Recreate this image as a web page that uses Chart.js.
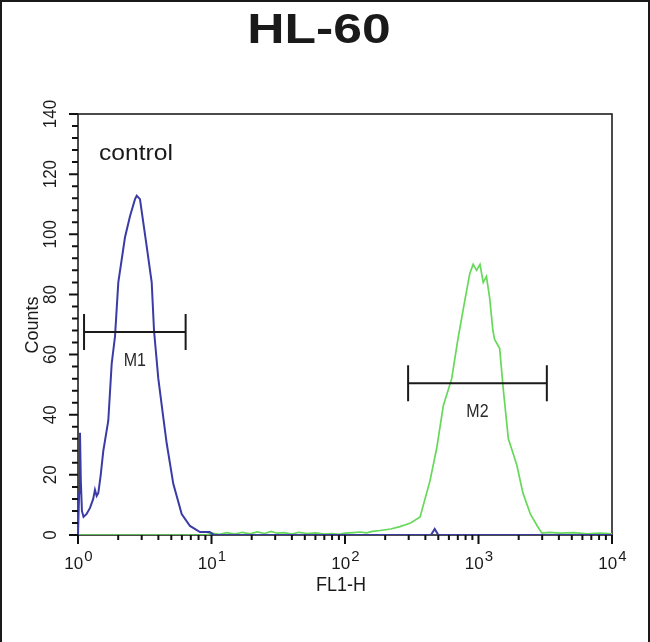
<!DOCTYPE html>
<html>
<head>
<meta charset="utf-8">
<script src="https://cdn.jsdelivr.net/npm/chart.js@4.4.1/dist/chart.umd.min.js"></script>
<style>
  html, body { margin: 0; padding: 0; background: #fff; }
  #wrap { position: relative; width: 650px; height: 642px; }
</style>
</head>
<body>
<div id="wrap"><canvas id="histChart"></canvas></div>
<script>
// control histogram (blue)
const blueX = [1.0, 1.02, 1.035, 1.05, 1.07, 1.1, 1.16, 1.23, 1.3, 1.34, 1.38, 1.42, 1.48, 1.547, 1.686, 1.788, 1.893,
  2.004, 2.249, 2.452, 2.673, 2.754, 2.912, 3.27, 3.565, 3.71, 3.996, 4.355, 4.616, 5.174, 5.98, 6.9, 8.2, 9.7, 10.5,
  440, 470, 500, 10000];
const blueY = [0, 14, 34, 18, 8, 6, 7, 9, 12, 15, 13, 14, 20, 28, 38, 57, 66,
  84, 99, 106, 111.7, 112.8, 111.7, 96, 84, 68, 52, 39, 30.5, 17, 7, 3, 1, 1, 0,
  0, 2, 0, 0];

// stained sample histogram (green)
const greenX = [1, 9, 10, 11.5, 13, 15, 17, 19.5, 22, 25, 28, 31, 35, 40, 45, 52, 60, 70, 80, 90, 100, 115, 130, 145,
  160, 183, 220, 258, 310, 365, 433, 487, 545, 630, 700,
  790, 861, 912, 967, 1026, 1085, 1146, 1211, 1282, 1320, 1441, 1529, 1673, 1820, 1942, 2151, 2445, 2757, 2980,
  3400, 4080, 5200, 6500, 8100, 10000];
const greenY = [0, 0, 0.6, 0.2, 0.8, 0.3, 0.9, 0.4, 1, 0.5, 1.2, 0.6, 0.8, 0.3, 0.9, 0.5, 0.7, 0.3, 0.5, 0.2, 0.6, 0.8, 1, 0.7,
  1.2, 1.5, 2, 2.8, 4, 6, 18, 29, 43, 52, 65,
  78, 87, 90, 88, 90, 84, 86, 79, 68, 65, 62, 49, 32, 27, 23, 14, 7, 3, 0.6,
  0.9, 0.6, 0.8, 0.4, 0.6, 0.4];

// gate markers
const markerNames = ["M1", "M2"];
const markerStart = [1.11, 297];
const markerEnd = [6.4, 3250];
const markerLevel = [67.5, 50.5];

const yTicks = [0, 20, 40, 60, 80, 100, 120, 140];
const xTickExp = [0, 1, 2, 3, 4];

const toPoints = (xs, ys) => xs.map((x, i) => ({ x: x, y: ys[i] }));

function drawText(ctx, text, x, y, font, align, sx, sy, rot) {
  ctx.save();
  ctx.translate(x, y);
  if (rot) ctx.rotate(rot);
  ctx.scale(sx || 1, sy || 1);
  ctx.font = font;
  ctx.textAlign = align || 'center';
  ctx.textBaseline = 'alphabetic';
  ctx.fillText(text, 0, 0);
  ctx.restore();
}

const decorPlugin = {
  id: 'decor',
  beforeDatasetsDraw(chart) {
    const { ctx, chartArea: a } = chart;
    const xs = chart.scales.x, ys = chart.scales.y;
    ctx.save();
    ctx.strokeStyle = '#111';
    ctx.lineWidth = 1.5;
    ctx.strokeRect(a.left, a.top, a.right - a.left, a.bottom - a.top);

    // y ticks
    ctx.lineWidth = 2;
    ctx.beginPath();
    for (let v = 0; v <= 140; v += 4) {
      const py = ys.getPixelForValue(v);
      const len = (v % 20 === 0) ? 9 : 6;
      ctx.moveTo(a.left - len, py);
      ctx.lineTo(a.left, py);
    }
    // x ticks
    xTickExp.forEach((e, i) => {
      const px = xs.getPixelForValue(Math.pow(10, e));
      ctx.moveTo(px, a.bottom);
      ctx.lineTo(px, a.bottom + 9);
      if (i < xTickExp.length - 1) {
        for (let m = 2; m <= 9; m++) {
          const mx = xs.getPixelForValue(m * Math.pow(10, e));
          ctx.moveTo(mx, a.bottom);
          ctx.lineTo(mx, a.bottom + 5);
        }
      }
    });
    ctx.stroke();
    ctx.restore();
  },
  afterDraw(chart) {
    const { ctx, chartArea: a } = chart;
    const xs = chart.scales.x, ys = chart.scales.y;
    ctx.save();
    ctx.fillStyle = '#1a1a1a';

    // image frame
    ctx.fillRect(0, 0, 650, 2);
    ctx.fillRect(0, 0, 2, 642);
    ctx.fillRect(648, 0, 2, 642);

    drawText(ctx, 'HL-60', 319, 43, 'bold 43px "Liberation Sans", Arial, sans-serif', 'center', 1.2, 1);
    drawText(ctx, 'control', 99, 160, '22px "Liberation Sans", Arial, sans-serif', 'left', 1.12, 1);

    // y tick labels (rotated)
    yTicks.forEach(v => {
      const py = ys.getPixelForValue(v);
      drawText(ctx, String(v), 56, py, '17px "Liberation Sans", Arial, sans-serif', 'center', 1, 1.05, -Math.PI / 2);
    });
    drawText(ctx, 'Counts', 38, 325, '18px "Liberation Sans", Arial, sans-serif', 'center', 1, 1, -Math.PI / 2);

    // x tick labels 10^n
    xTickExp.forEach(e => {
      const px = xs.getPixelForValue(Math.pow(10, e));
      ctx.font = '17px "Liberation Sans", Arial, sans-serif';
      const wBase = ctx.measureText('10').width;
      ctx.font = '15px "Liberation Sans", Arial, sans-serif';
      const wExp = ctx.measureText(String(e)).width;
      const left = px - (wBase + wExp) / 2;
      drawText(ctx, '10', left, 569, '17px "Liberation Sans", Arial, sans-serif', 'left');
      drawText(ctx, String(e), left + wBase + 1, 561, '15px "Liberation Sans", Arial, sans-serif', 'left');
    });
    drawText(ctx, 'FL1-H', 341, 591, '19px "Liberation Sans", Arial, sans-serif', 'center', 0.95, 1.05);

    // gate markers
    ctx.strokeStyle = '#1a1a1a';
    ctx.lineWidth = 2;
    markerNames.forEach((name, i) => {
      const x1 = xs.getPixelForValue(markerStart[i]);
      const x2 = xs.getPixelForValue(markerEnd[i]);
      const py = ys.getPixelForValue(markerLevel[i]);
      ctx.beginPath();
      ctx.moveTo(x1, py); ctx.lineTo(x2, py);
      ctx.moveTo(x1, py - 18); ctx.lineTo(x1, py + 18);
      ctx.moveTo(x2, py - 18); ctx.lineTo(x2, py + 18);
      ctx.stroke();
      const cx = xs.getPixelForValue(Math.sqrt(markerStart[i] * markerEnd[i]));
      ctx.fillStyle = '#2a2a2a';
      drawText(ctx, name, cx, py + 34, '16px "Liberation Sans", Arial, sans-serif', 'center', 1, 1.2);
    });
    ctx.restore();
  }
};

new Chart(document.getElementById('histChart'), {
  type: 'line',
  data: {
    datasets: [{
      label: 'control',
      data: toPoints(blueX, blueY),
      borderColor: '#3b3ba6',
      borderWidth: 2,
      pointRadius: 0,
      tension: 0
    }, {
      label: 'HL-60',
      data: toPoints(greenX, greenY),
      borderColor: '#66d95a',
      borderWidth: 1.7,
      pointRadius: 0,
      tension: 0
    }]
  },
  options: {
    responsive: true,
    maintainAspectRatio: false,
    animation: false,
    layout: { padding: { left: 78, top: 114, right: 38, bottom: 107 } },
    plugins: { legend: { display: false }, tooltip: { enabled: false } },
    scales: {
      x: { type: 'logarithmic', min: 1, max: 10000, display: false },
      y: { type: 'linear', min: 0, max: 140, display: false }
    }
  },
  plugins: [decorPlugin]
});
</script>
</body>
</html>
